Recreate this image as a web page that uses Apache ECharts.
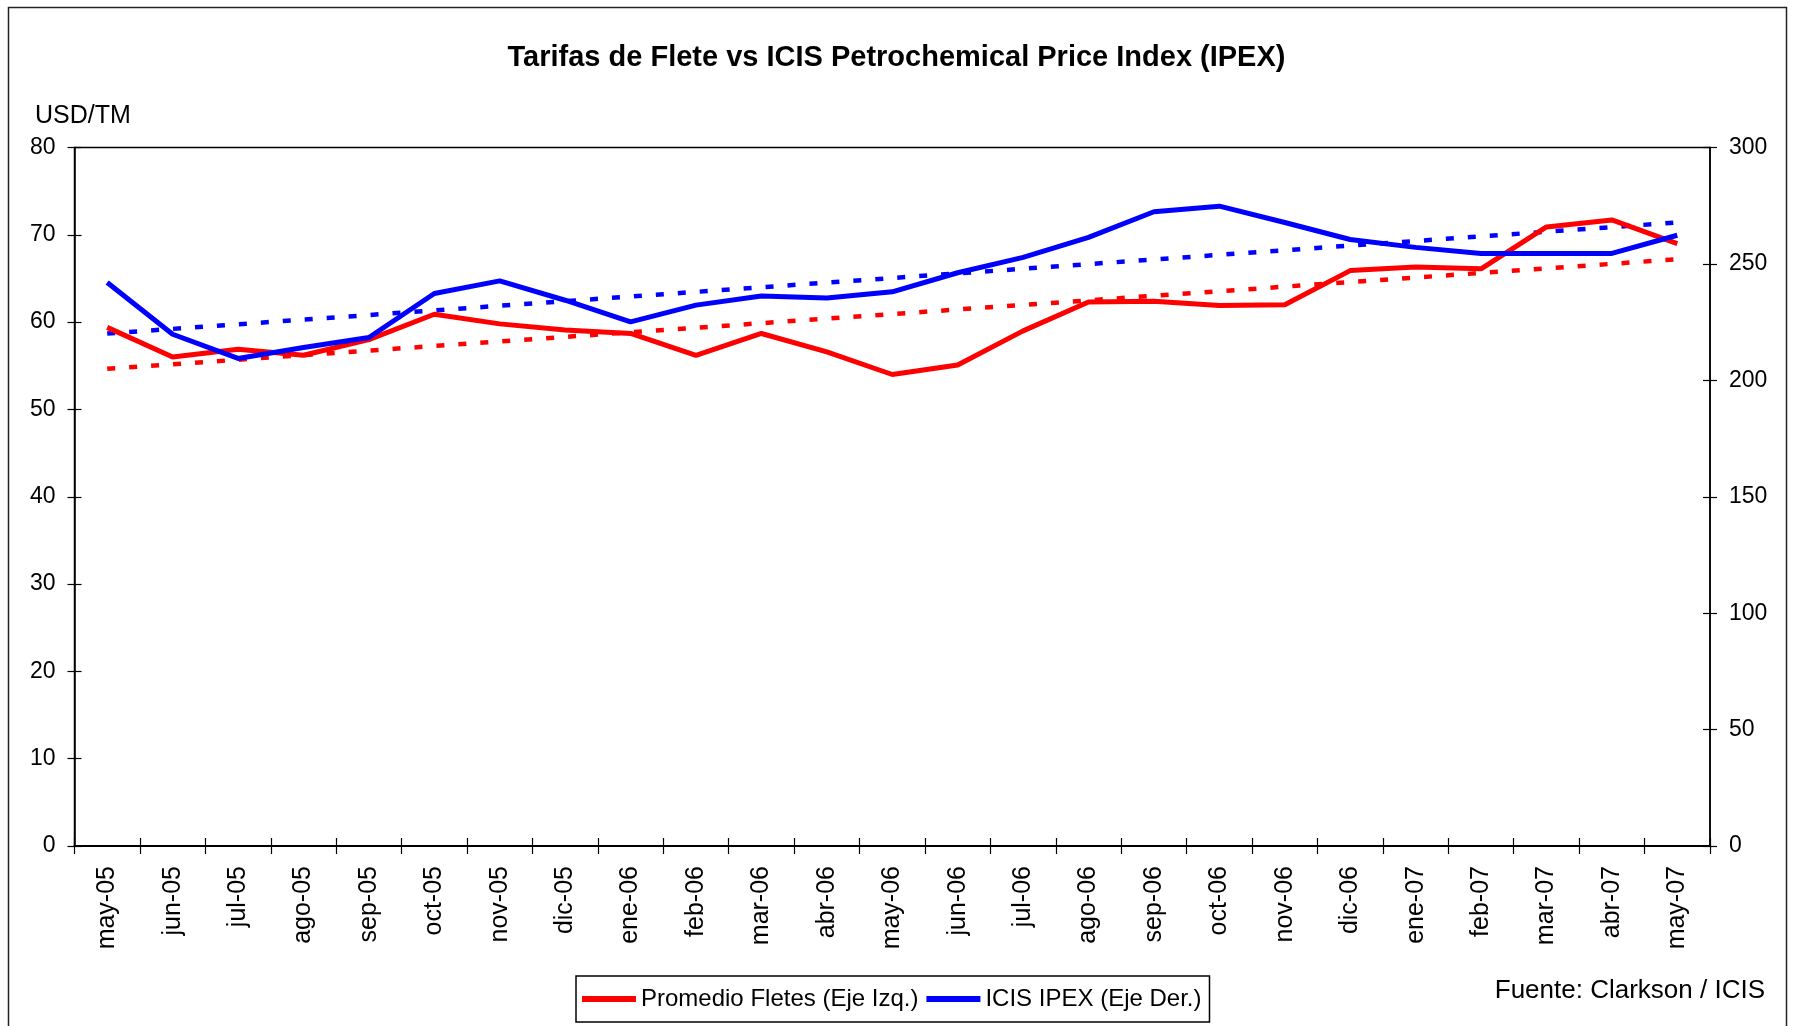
<!DOCTYPE html>
<html>
<head>
<meta charset="utf-8">
<style>
html,body{margin:0;padding:0;background:#fff;}
#chart{width:1793px;height:1026px;}
</style>
<script src="https://cdn.jsdelivr.net/npm/echarts@6/dist/echarts.min.js"></script>
</head>
<body>
<div id="chart"></div>
<script>
const categories = ['may-05','jun-05','jul-05','ago-05','sep-05','oct-05','nov-05','dic-05','ene-06','feb-06','mar-06','abr-06','may-06','jun-06','jul-06','ago-06','sep-06','oct-06','nov-06','dic-06','ene-07','feb-07','mar-07','abr-07','may-07'];
const fletes = [59.4, 56.0, 56.9, 56.2, 58.0, 60.9, 59.8, 59.1, 58.7, 56.2, 58.7, 56.6, 54.0, 55.1, 59.0, 62.3, 62.4, 61.9, 62.0, 65.9, 66.3, 66.1, 70.9, 71.7, 69.0];
const ipex = [242.0, 219.8, 209.4, 214.1, 218.4, 237.3, 242.7, 234.4, 225.1, 232.3, 236.2, 235.4, 238.0, 246.2, 252.8, 261.4, 272.4, 274.8, 267.8, 260.5, 257.1, 254.5, 254.5, 254.5, 262.3];
// Trend lines read at their two ends
const fletesTrend = [['may-05', 54.65], ['may-07', 67.2]];
const ipexTrend = [['may-05', 220.1], ['may-07', 267.8]];
const leftTicks = {min: 0, max: 80, interval: 10};
const rightTicks = {min: 0, max: 300, interval: 50};

const FONT = 'Liberation Sans, Arial, sans-serif';
const chart = echarts.init(document.getElementById('chart'));

const baseY = (t, pos, inside, showLabel) => ({
  type: 'value', position: pos, min: t.min, max: t.max, interval: t.interval,
  axisLine: {show: !inside, lineStyle: {color: '#000', width: 1.5}},
  axisTick: {show: true, inside: inside, length: 7, lineStyle: {color: '#000', width: 1.2}},
  axisLabel: {show: showLabel, margin: 19, color: '#000', fontSize: 23, fontFamily: FONT},
  splitLine: {show: false}
});

chart.setOption({
  backgroundColor: '#fff',
  animation: false,
  title: {
    text: 'Tarifas de Flete vs ICIS Petrochemical Price Index (IPEX)',
    left: 'center', top: 43, padding: 0,
    textStyle: {fontSize: 29, fontWeight: 'bold', color: '#000', fontFamily: FONT}
  },
  graphic: [
    {type: 'rect', shape: {x: 8.5, y: 7.5, width: 1778, height: 1040}, style: {fill: 'none', stroke: '#222', lineWidth: 1.5}, silent: true, z: -1},
    {type: 'text', left: 35, top: 104, style: {text: 'USD/TM', fontSize: 25, fill: '#000', fontFamily: FONT}},
    {type: 'text', right: 28, top: 978, style: {text: 'Fuente: Clarkson / ICIS', fontSize: 26, fill: '#000', fontFamily: FONT}}
  ],
  legend: {
    data: ['Promedio Fletes (Eje Izq.)', 'ICIS IPEX (Eje Der.)'],
    left: 576, top: 976,
    icon: 'rect', itemWidth: 54, itemHeight: 6, itemGap: 8,
    padding: [11, 8, 11, 6],
    borderColor: '#000', borderWidth: 1.5,
    textStyle: {fontSize: 24, color: '#000', fontFamily: FONT}
  },
  grid: {left: 74.5, right: 83, top: 147.5, bottom: 180, show: true, borderColor: '#000', borderWidth: 1.5, backgroundColor: 'transparent'},
  xAxis: [
    {type: 'category', data: categories, boundaryGap: true,
     axisLine: {lineStyle: {color: '#000', width: 2}},
     axisTick: {show: true, length: 8, lineStyle: {color: '#000', width: 1.2}},
     axisLabel: {rotate: 90, margin: 20, color: '#000', fontSize: 25, fontFamily: FONT, interval: 0}},
    {type: 'category', data: categories, boundaryGap: true, position: 'bottom',
     axisLine: {show: false},
     axisTick: {show: true, inside: true, length: 8, lineStyle: {color: '#000', width: 1.2}},
     axisLabel: {show: false}}
  ],
  yAxis: [
    baseY(leftTicks, 'left', false, true),
    baseY(rightTicks, 'right', false, true),
    baseY(leftTicks, 'left', true, false),
    baseY(rightTicks, 'right', true, false)
  ],
  series: [
    {name: 'fletesTrend', type: 'line', yAxisIndex: 0, data: fletesTrend, symbol: 'none',
     lineStyle: {color: '#FF0000', width: 4.5, type: [8, 14], cap: 'butt'}},
    {name: 'ipexTrend', type: 'line', yAxisIndex: 1, data: ipexTrend, symbol: 'none',
     lineStyle: {color: '#0000FF', width: 4.5, type: [8, 14], cap: 'butt'}},
    {name: 'Promedio Fletes (Eje Izq.)', type: 'line', yAxisIndex: 0, data: fletes, symbol: 'none',
     itemStyle: {color: '#FF0000'}, lineStyle: {color: '#FF0000', width: 5}},
    {name: 'ICIS IPEX (Eje Der.)', type: 'line', yAxisIndex: 1, data: ipex, symbol: 'none',
     itemStyle: {color: '#0000FF'}, lineStyle: {color: '#0000FF', width: 5}}
  ]
});
</script>
</body>
</html>
